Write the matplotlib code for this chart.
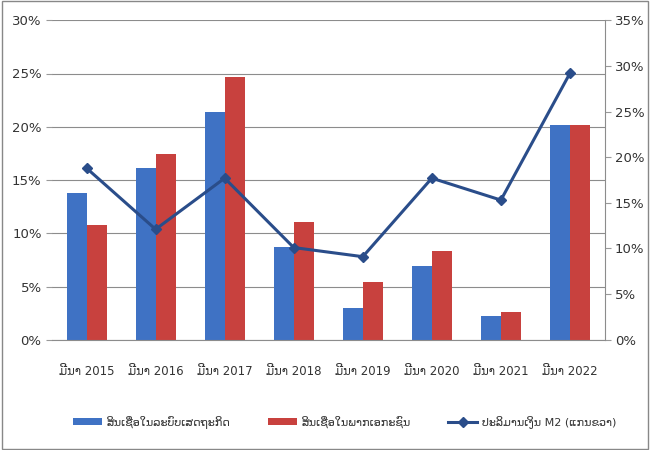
import matplotlib
matplotlib.use("Agg")
import matplotlib.pyplot as plt
from matplotlib.patches import Rectangle
from matplotlib.ticker import PercentFormatter
import numpy as np

# data (percent)
years = ["ມີນາ 2015", "ມີນາ 2016", "ມີນາ 2017", "ມີນາ 2018",
         "ມີນາ 2019", "ມີນາ 2020", "ມີນາ 2021", "ມີນາ 2022"]
credit_economy = [13.8, 16.1, 21.4, 8.7, 3.0, 6.9, 2.2, 20.2]
credit_private = [10.8, 17.4, 24.7, 11.1, 5.4, 8.3, 2.6, 20.2]
m2_growth = [18.8, 12.1, 17.7, 10.1, 9.1, 17.7, 15.3, 29.2]

labels = ["ສິນເຊື່ອໃນລະບົບເສດຖະກິດ", "ສິນເຊື່ອໃນພາກເອກະຊົນ", "ປະລິມານເງິນ M2 (ແກນຂວາ)"]

plt.rcParams['font.family'] = ['DejaVu Sans']
plt.rcParams['font.size'] = 9

fig = plt.figure(figsize=(6.5, 4.5), dpi=100)
ax = fig.add_axes([0.08, 0.245, 0.85, 0.71])
ax2 = ax.twinx()

x = np.arange(len(years))
w = 0.29
b1 = ax.bar(x - w / 2, credit_economy, w, color="#3f72c4", label=labels[0], zorder=2)
b2 = ax.bar(x + w / 2, credit_private, w, color="#c8413e", label=labels[1], zorder=2)
ln, = ax2.plot(x, m2_growth, color="#2a4d8a", lw=2.2, marker="D", ms=5, label=labels[2])

ax.set_xlim(-0.5, len(years) - 0.5)
ax.set_ylim(0, 30)
ax2.set_ylim(0, 35)
ax.set_yticks(np.arange(0, 31, 5))
ax2.set_yticks(np.arange(0, 36, 5))
ax.yaxis.set_major_formatter(PercentFormatter(decimals=0))
ax2.yaxis.set_major_formatter(PercentFormatter(decimals=0))
ax.set_xticks(x)
ax.set_xticklabels(years, fontsize=8.5, color="#333333")
ax.tick_params(axis="x", length=0, pad=18)
ax.tick_params(axis="y", length=4, color="#999999", labelsize=9.5, labelcolor="#333333")
ax2.tick_params(axis="y", length=4, color="#999999", labelsize=9.5, labelcolor="#333333")
ax.grid(axis="y", color="#8c8c8c", lw=0.8, zorder=0)
ax.set_axisbelow(True)

for a in (ax, ax2):
    for s in ("top", "left"):
        a.spines[s].set_visible(False)
ax.spines["right"].set_visible(False)
ax.spines["bottom"].set_color("#8c8c8c")
ax2.spines["bottom"].set_visible(False)
ax2.spines["right"].set_color("#8c8c8c")

fig.legend([b1, b2, ln], labels, loc="lower center", bbox_to_anchor=(0.53, 0.025),
           ncol=3, frameon=False, fontsize=8, handlelength=2.6, handleheight=0.6,
           columnspacing=3.4, handletextpad=0.4, labelcolor="#333333")

# outer frame around the chart
fig.patches.append(Rectangle((0.003, 0.003), 0.994, 0.994, transform=fig.transFigure,
                             fill=False, ec="#888888", lw=1))

fig.savefig("out.png", dpi=100)
